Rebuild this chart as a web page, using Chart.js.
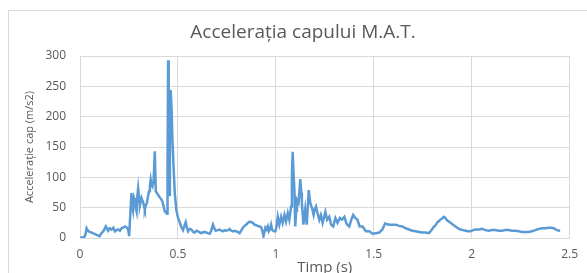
<!DOCTYPE html>
<html>
<head>
<meta charset="utf-8">
<script src="https://cdn.jsdelivr.net/npm/chart.js@4.4.1/dist/chart.umd.min.js"></script>
<style>
  html, body { margin: 0; padding: 0; background: #ffffff; overflow: hidden; }
  #wrap { width: 587px; height: 273px; position: relative; }
</style>
</head>
<body>
<div id="wrap"><canvas id="c" width="587" height="273"></canvas></div>
<script>
// ---- Data ----
const chartTitle = 'Accelerația capului M.A.T.';
const xAxisTitle = 'Timp (s)';
const yAxisTitle = 'Accelerație cap (m/s2)';
const xTicks = [0, 0.5, 1, 1.5, 2, 2.5];
const yTicks = [0, 50, 100, 150, 200, 250, 300];

const times = [
  0.000, 0.010, 0.020, 0.028, 0.034, 0.043, 0.050, 0.060, 0.072, 0.085,
  0.100, 0.110, 0.119, 0.132, 0.144, 0.152, 0.161, 0.170, 0.178, 0.187,
  0.195, 0.204, 0.212, 0.220, 0.229, 0.240, 0.246, 0.251, 0.257, 0.263,
  0.267, 0.271, 0.276, 0.280, 0.285, 0.289, 0.293, 0.297, 0.302, 0.306,
  0.310, 0.314, 0.318, 0.322, 0.327, 0.331, 0.337, 0.342, 0.348, 0.353,
  0.357, 0.361, 0.365, 0.370, 0.376, 0.382, 0.387, 0.393, 0.399, 0.405,
  0.410, 0.415, 0.421, 0.427, 0.433, 0.439, 0.445, 0.447, 0.450, 0.453,
  0.455, 0.459, 0.463, 0.468, 0.472, 0.478, 0.484, 0.492, 0.500, 0.509,
  0.517, 0.526, 0.533, 0.540, 0.546, 0.552, 0.560, 0.569, 0.578, 0.586,
  0.595, 0.603, 0.612, 0.620, 0.632, 0.645, 0.653, 0.662, 0.670, 0.679,
  0.686, 0.693, 0.703, 0.713, 0.722, 0.730, 0.739, 0.747, 0.756, 0.764,
  0.772, 0.781, 0.790, 0.798, 0.806, 0.815, 0.823, 0.832, 0.840, 0.849,
  0.857, 0.866, 0.875, 0.883, 0.891, 0.900, 0.908, 0.917, 0.925, 0.931,
  0.937, 0.942, 0.947, 0.953, 0.959, 0.964, 0.970, 0.976, 0.982, 0.990,
  0.998, 1.004, 1.010, 1.018, 1.027, 1.035, 1.044, 1.052, 1.061, 1.069,
  1.078, 1.082, 1.086, 1.090, 1.095, 1.099, 1.104, 1.108, 1.116, 1.121,
  1.125, 1.130, 1.133, 1.141, 1.150, 1.158, 1.163, 1.168, 1.176, 1.185,
  1.193, 1.199, 1.205, 1.213, 1.222, 1.230, 1.239, 1.253, 1.262, 1.273,
  1.282, 1.293, 1.304, 1.315, 1.327, 1.338, 1.350, 1.362, 1.375, 1.385,
  1.395, 1.405, 1.417, 1.428, 1.443, 1.460, 1.477, 1.494, 1.511, 1.528,
  1.544, 1.558, 1.578, 1.595, 1.612, 1.630, 1.646, 1.663, 1.680, 1.697,
  1.714, 1.731, 1.748, 1.765, 1.782, 1.790, 1.799, 1.808, 1.816, 1.825,
  1.833, 1.842, 1.850, 1.857, 1.864, 1.870, 1.875, 1.884, 1.892, 1.900,
  1.909, 1.918, 1.926, 1.935, 1.943, 1.956, 1.969, 1.982, 1.994, 2.007,
  2.020, 2.037, 2.053, 2.070, 2.087, 2.104, 2.121, 2.138, 2.155, 2.172,
  2.189, 2.206, 2.223, 2.240, 2.257, 2.274, 2.291, 2.308, 2.325, 2.342,
  2.359, 2.376, 2.393, 2.406, 2.419, 2.435, 2.452
];

const accel = [
  0, 1, 0, 6, 16, 11, 10, 9, 7, 5,
  3, 8, 11, 19, 12, 16, 14, 17, 11, 13,
  14, 12, 16, 17, 19, 17, 14, 3, 40, 74,
  52, 45, 66, 62, 50, 44, 70, 82, 65, 54,
  60, 66, 62, 60, 52, 47, 55, 58, 70, 77,
  85, 96, 88, 85, 95, 143, 77, 74, 71, 68,
  66, 64, 60, 52, 44, 42, 40, 120, 293, 200,
  71, 160, 244, 210, 161, 115, 74, 46, 34, 26,
  18, 13, 20, 26, 17, 11, 15, 14, 10, 9,
  12, 11, 9, 8, 10, 9, 8, 7, 12, 22,
  16, 12, 13, 14, 12, 11, 13, 12, 13, 15,
  12, 11, 12, 11, 10, 8, 12, 17, 20, 22,
  25, 27, 26, 25, 22, 21, 20, 19, 18, 12,
  3, 10, 17, 14, 19, 11, 14, 22, 13, 11,
  11, 20, 35, 22, 35, 25, 38, 27, 41, 30,
  52, 100, 142, 110, 79, 19, 45, 63, 58, 80,
  97, 75, 58, 22, 47, 22, 50, 79, 58, 49,
  38, 48, 52, 41, 30, 38, 25, 43, 30, 35,
  22, 19, 33, 25, 33, 30, 35, 23, 19, 30,
  38, 33, 30, 19, 19, 11, 11, 7, 8, 9,
  14, 24, 22, 22, 22, 20, 19, 16, 14, 12,
  11, 10, 9, 9, 8, 11, 15, 19, 21, 26,
  28, 31, 32, 35, 34, 31, 29, 27, 25, 23,
  21, 19, 17, 15, 14, 13, 12, 11, 11, 13,
  14, 14, 15, 13, 12, 13, 13, 12, 12, 13,
  13, 12, 12, 11, 10, 10, 10, 11, 13, 15,
  16, 16, 17, 17, 16, 13, 12
];

// ---- Build chart ----
const points = times.map((t, i) => ({ x: t, y: accel[i] }));
const textColor = '#595959';
const gridColor = '#d9d9d9';
const fontFamily = '"Open Sans", "Liberation Sans", sans-serif';

const framePlugin = {
  id: 'frame',
  beforeDraw(chart) {
    const ctx = chart.ctx;
    ctx.save();
    ctx.fillStyle = '#ffffff';
    ctx.fillRect(0, 0, chart.width, chart.height);
    ctx.strokeStyle = gridColor;
    ctx.lineWidth = 1;
    ctx.strokeRect(8.5, 10.5, 800, 400);
    ctx.restore();
  },
  afterDraw(chart) {
    const ctx = chart.ctx;
    ctx.save();
    ctx.fillStyle = textColor;
    ctx.font = '19px ' + fontFamily;
    ctx.textAlign = 'center';
    ctx.textBaseline = 'alphabetic';
    ctx.fillText(chartTitle, 303, 38);
    ctx.restore();
  }
};

new Chart(document.getElementById('c'), {
  type: 'line',
  data: {
    datasets: [{
      data: points,
      borderColor: '#5b9bd5',
      backgroundColor: '#5b9bd5',
      borderWidth: 2.5,
      pointRadius: 0,
      tension: 0,
      fill: false
    }]
  },
  options: {
    responsive: false,
    animation: false,
    devicePixelRatio: 1,
    layout: { padding: { left: 0, top: 56, right: 16, bottom: 0 } },
    plugins: { legend: { display: false }, tooltip: { enabled: false }, title: { display: false } },
    scales: {
      x: {
        type: 'linear',
        min: xTicks[0],
        max: xTicks[xTicks.length - 1],
        afterBuildTicks(scale) { scale.ticks = xTicks.map(v => ({ value: v })); },
        afterFit(scale) { scale.height = 35; },
        grid: { color: gridColor, drawTicks: false },
        border: { color: gridColor },
        ticks: {
          color: textColor,
          font: { family: fontFamily, size: 12 },
          padding: 9,
          maxRotation: 0,
          callback: v => String(v)
        },
        title: {
          display: true,
          text: xAxisTitle,
          color: textColor,
          font: { family: fontFamily, size: 15 },
          padding: { top: 0, bottom: -4 }
        }
      },
      y: {
        min: yTicks[0],
        max: yTicks[yTicks.length - 1],
        afterBuildTicks(scale) { scale.ticks = yTicks.map(v => ({ value: v })); },
        afterFit(scale) { scale.width = 80; },
        grid: { color: gridColor, drawTicks: false },
        border: { color: gridColor },
        ticks: {
          color: textColor,
          font: { family: fontFamily, size: 12 },
          padding: 14
        },
        title: {
          display: true,
          text: yAxisTitle,
          color: textColor,
          font: { family: fontFamily, size: 11 },
          padding: { top: 23, bottom: 0 }
        }
      }
    }
  },
  plugins: [framePlugin]
});
</script>
</body>
</html>
